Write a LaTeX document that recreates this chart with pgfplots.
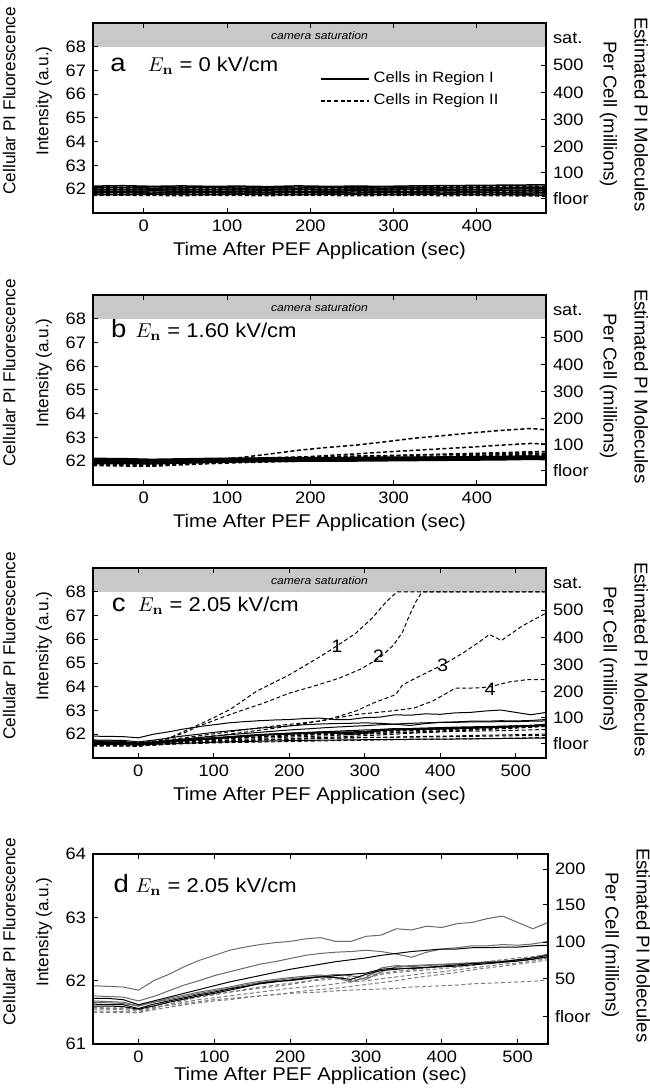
\documentclass[border=0pt]{standalone}
\usepackage[no-math]{fontspec}
\setmainfont{Liberation Sans}[FakeStretch=1.1]
\newfontfamily\rotfont{Liberation Sans}
\usepackage{pgfplots}
\usepackage{pgfplotstable}
\pgfplotsset{compat=1.18}

\definecolor{satgray}{RGB}{200,200,200}
\definecolor{dgray}{RGB}{105,105,105}
\definecolor{lgray}{RGB}{125,125,125}

% panel a: cells at 0 kV/cm
\pgfplotstableread{
t   s1    s2    s3    s4    s5    s6    d1    d2    d3    d4    d5    d6
-61 62.13 62.06 61.99 61.92 61.85 61.78 62.10 62.02 61.95 61.88 61.81 61.74
-25 62.15 62.07 61.98 61.91 61.86 61.77 62.09 62.03 61.96 61.89 61.82 61.75
10  62.12 62.05 62.00 61.93 61.84 61.79 62.11 62.01 61.95 61.88 61.81 61.74
45  62.14 62.06 61.99 61.92 61.85 61.78 62.10 62.03 61.96 61.87 61.82 61.73
80  62.12 62.07 61.98 61.91 61.86 61.77 62.09 62.02 61.94 61.89 61.80 61.75
115 62.13 62.05 62.00 61.92 61.84 61.79 62.10 62.03 61.96 61.88 61.82 61.74
150 62.11 62.06 61.99 61.93 61.85 61.78 62.08 62.02 61.95 61.89 61.81 61.73
185 62.14 62.05 62.00 61.91 61.86 61.77 62.10 62.01 61.96 61.88 61.82 61.75
220 62.12 62.07 61.98 61.92 61.85 61.79 62.09 62.03 61.95 61.87 61.80 61.74
255 62.13 62.06 62.00 61.93 61.84 61.78 62.11 62.02 61.94 61.89 61.81 61.73
290 62.12 62.05 61.99 61.92 61.86 61.77 62.10 62.03 61.96 61.88 61.82 61.74
325 62.14 62.07 62.01 61.91 61.85 61.78 62.09 62.02 61.95 61.89 61.81 61.75
360 62.15 62.06 62.00 61.93 61.84 61.79 62.11 62.04 61.96 61.88 61.80 61.73
395 62.16 62.08 61.99 61.92 61.86 61.77 62.12 62.03 61.97 61.89 61.82 61.74
430 62.17 62.07 62.01 61.94 61.85 61.78 62.10 62.04 61.96 61.90 61.81 61.73
465 62.18 62.09 62.02 61.93 61.84 61.76 62.13 62.05 61.97 61.89 61.80 61.72
483 62.19 62.08 62.01 61.94 61.85 61.75 62.12 62.04 61.97 61.90 61.81 61.71
}\atab

% panel b: 1.60 kV/cm
\pgfplotstableread{
t   s1    s2    s3    s4    s5    s6    d1    d2    d3    d4    d5    d6    d7
-61 62.12 62.05 62.00 61.95 61.90 62.08 62.05 61.96 61.92 61.88 61.85 61.82 62.10
-25 62.11 62.04 61.99 61.94 61.90 62.07 62.00 61.93 61.90 61.86 61.83 61.80 62.08
10  62.08 62.02 61.97 61.92 61.89 62.05 61.95 61.90 61.87 61.84 61.81 61.79 62.04
45  62.10 62.04 61.99 61.95 61.92 62.07 61.98 61.95 61.92 61.90 61.87 61.85 62.06
80  62.12 62.06 62.01 61.98 61.95 62.09 62.05 62.00 61.98 61.95 61.93 61.90 62.10
115 62.13 62.08 62.03 62.00 61.97 62.10 62.15 62.05 62.02 61.99 61.97 61.94 62.12
150 62.14 62.09 62.04 62.02 61.99 62.12 62.30 62.10 62.06 62.02 62.00 61.97 62.15
185 62.15 62.10 62.05 62.03 62.00 62.13 62.46 62.16 62.10 62.05 62.03 62.00 62.18
220 62.15 62.10 62.06 62.03 62.00 62.13 62.58 62.24 62.14 62.08 62.05 62.02 62.20
255 62.16 62.11 62.06 62.04 62.01 62.14 62.68 62.31 62.18 62.12 62.08 62.04 62.22
290 62.17 62.12 62.07 62.05 62.02 62.14 62.82 62.39 62.22 62.15 62.10 62.06 62.24
325 62.17 62.12 62.08 62.05 62.03 62.15 62.97 62.46 62.26 62.18 62.13 62.08 62.26
360 62.18 62.13 62.09 62.06 62.04 62.16 63.08 62.53 62.30 62.21 62.16 62.10 62.28
395 62.19 62.14 62.10 62.07 62.05 62.17 63.20 62.60 62.33 62.24 62.19 62.12 62.30
430 62.20 62.15 62.11 62.08 62.06 62.19 63.30 62.68 62.36 62.27 62.22 62.14 62.32
465 62.22 62.17 62.13 62.10 62.08 62.21 63.38 62.75 62.40 62.31 62.26 62.17 62.35
483 62.20 62.16 62.12 62.09 62.07 62.19 63.32 62.72 62.41 62.30 62.25 62.16 62.33
}\btab

% panels c and d: 2.05 kV/cm, cells shown in both
\pgfplotstableread{
t   L1    L2    L3    L4    L5    L6    L7    D1    D2    D3    D4    D5
-60 61.92 61.76 61.72 61.68 61.63 61.60 61.66 61.55 61.52 61.57 61.50 61.58
-40 61.91 61.75 61.72 61.67 61.62 61.60 61.65 61.55 61.52 61.56 61.50 61.57
-20 61.90 61.74 61.70 61.66 61.62 61.59 61.64 61.54 61.51 61.56 61.50 61.57
0   61.85 61.68 61.62 61.60 61.56 61.55 61.60 61.52 61.50 61.54 61.49 61.55
20  62.00 61.75 61.68 61.66 61.63 61.60 61.66 61.57 61.54 61.58 61.56 61.60
40  62.10 61.84 61.74 61.72 61.68 61.66 61.70 61.62 61.58 61.61 61.63 61.66
60  62.22 61.93 61.80 61.77 61.73 61.71 61.75 61.66 61.62 61.64 61.69 61.70
80  62.32 62.00 61.86 61.82 61.78 61.76 61.80 61.70 61.65 61.67 61.74 61.75
100 62.40 62.08 61.92 61.86 61.82 61.80 61.84 61.73 61.68 61.70 61.78 61.78
120 62.48 62.14 61.98 61.90 61.87 61.85 61.88 61.76 61.70 61.72 61.82 61.82
140 62.53 62.20 62.03 61.95 61.91 61.90 61.93 61.79 61.73 61.74 61.85 61.86
160 62.57 62.26 62.08 61.99 61.95 61.96 61.97 61.82 61.76 61.76 61.88 61.90
180 62.60 62.30 62.13 62.02 61.98 61.99 62.00 61.85 61.78 61.78 61.91 61.93
200 62.62 62.35 62.18 62.05 62.01 62.00 62.03 61.88 61.81 61.80 61.94 61.96
220 62.66 62.40 62.22 62.07 62.04 62.03 62.05 61.90 61.84 61.81 61.98 61.99
240 62.68 62.43 62.26 62.09 62.06 62.06 62.07 61.92 61.86 61.82 62.03 62.01
260 62.62 62.45 62.30 62.05 62.08 62.05 62.10 61.95 61.88 61.84 62.05 62.03
280 62.62 62.46 62.33 61.98 62.10 62.02 62.08 61.98 61.91 61.85 62.06 62.00
300 62.70 62.48 62.36 62.05 62.12 62.10 62.02 62.00 61.94 61.86 62.08 62.04
320 62.72 62.46 62.40 62.20 62.18 62.16 62.14 62.03 61.97 61.87 62.12 62.10
340 62.82 62.42 62.43 62.24 62.20 62.18 62.22 62.06 62.00 61.88 62.15 62.13
360 62.80 62.37 62.46 62.22 62.19 62.20 62.24 62.09 62.04 61.90 62.17 62.15
380 62.86 62.45 62.48 62.24 62.21 62.21 62.25 62.12 62.07 61.91 62.20 62.17
400 62.84 62.50 62.50 62.25 62.23 62.22 62.26 62.14 62.10 61.92 62.22 62.19
420 62.90 62.52 62.50 62.27 62.25 62.23 62.27 62.17 62.13 61.93 62.24 62.21
440 62.92 62.55 62.52 62.28 62.27 62.25 62.28 62.20 62.17 61.95 62.27 62.24
460 62.98 62.55 62.52 62.30 62.28 62.27 62.29 62.23 62.20 61.96 62.30 62.27
480 63.02 62.57 62.53 62.31 62.30 62.29 62.30 62.26 62.23 61.97 62.33 62.29
500 62.92 62.56 62.53 62.33 62.33 62.31 62.32 62.28 62.26 61.98 62.36 62.31
520 62.82 62.58 62.55 62.36 62.36 62.34 62.34 62.31 62.29 61.99 62.38 62.33
540 62.92 62.62 62.56 62.42 62.40 62.38 62.37 62.35 62.33 62.01 62.42 62.36
}\ctab

\pgfplotsset{
  dashsty/.style={dash pattern=on 2pt off 1.3pt},
  ln/.style={black, line width=0.5pt},
  dln/.style={black, line width=0.5pt, dashsty},
  bln/.style={black, line width=0.75pt},
  bdln/.style={black, line width=0.75pt, dashsty},
  pef/.style={
    scale only axis, width=226.5pt, height=95pt, anchor=north west,
    axis on top, clip mode=individual,
    axis line style={line width=0.8pt},
    tick align=inside, major tick length=2.5pt,
    xtick pos=both, ytick pos=left,
    tick style={line width=0.5pt, black},
    tick label style={font=\fontsize{8.3}{9}\selectfont},
    /pgf/number format/assume math mode=true,
    xlabel={Time After PEF Application (sec)},
    xlabel style={font=\fontsize{9.2}{10}\selectfont, at={(rel axis cs:0.5,0)}, anchor=center, yshift=-19pt},
  },
  rax/.style={
    scale only axis, width=226.5pt, height=95pt, anchor=north west,
    hide x axis, axis y line*=right,
    axis line style={line width=0.8pt},
    tick align=inside, major tick length=2.5pt,
    tick style={line width=0.5pt, black},
    tick label style={font=\fontsize{8.3}{9}\selectfont},
  },
}

\newcommand{\ylab}[1]{\node[rotate=90, align=center, font=\rotfont\fontsize{8.6}{10}\selectfont] at (-32.8pt,#1) {Cellular PI Fluorescence\\[6.5pt]Intensity (a.u.)};}
\newcommand{\rlab}[2]{\node[rotate=-90, align=center, font=\rotfont\fontsize{9.3}{10}\selectfont] at (#1,#2) {Estimated PI Molecules\\[5.5pt]Per Cell (millions)};}

\begin{document}
\begin{tikzpicture}
\useasboundingbox (-46.5pt,11.5pt) rectangle (278pt,-533.5pt);

% ---------------- a ----------------
\begin{axis}[pef, at={(0pt,0pt)}, xmin=-61, xmax=483, ymin=61, ymax=69,
  xtick={0,100,...,400}, ytick={62,...,68},
  legend style={at={(rel axis cs:0.5,0.765)}, anchor=north west, draw=none, fill=none,
    font=\fontsize{7.5}{8}\selectfont, inner sep=0pt, row sep=0pt},
  legend cell align=left,
  legend image code/.code={\draw[#1] (0pt,0pt) -- (24pt,0pt);}]
\addlegendimage{black, line width=0.9pt}
\addlegendimage{black, line width=0.9pt, dashsty}
\addplot[fill=satgray, draw=none, forget plot] coordinates {(-61,68) (483,68) (483,69) (-61,69)} --cycle;
\pgfplotsinvokeforeach{s1,s2,s3,s4,s5,s6}{\addplot[bln] table[x=t,y=#1]{\atab};}
\pgfplotsinvokeforeach{d1,d2,d3,d4,d5,d6}{\addplot[bdln] table[x=t,y=#1]{\atab};}
\legend{Cells in Region I, Cells in Region II}
\node[font=\fontsize{5.5}{6}\selectfont\itshape] at (axis cs:211,68.45) {camera saturation};
\node[font=\fontsize{12.5}{12}\selectfont, anchor=base] at (rel axis cs:0.055,0.745) {a};
\node[font=\fontsize{10}{10}\selectfont, anchor=base west, inner sep=0pt] at (rel axis cs:0.12,0.745) {$E_{\mathbf{n}}$ = 0 kV/cm};
\end{axis}
\begin{axis}[rax, at={(0pt,0pt)}, xmin=-61, xmax=483, ymin=61, ymax=69,
  ytick={61.6,62.7,63.8,64.93,66.08,67.22}, yticklabels={floor,100,200,300,400,500},
  extra y ticks={68.35}, extra y tick labels={sat.}, extra y tick style={major tick length=0pt}]
\end{axis}
\ylab{-38.95pt}
\rlab{265.5pt}{-45.6pt}

% ---------------- b ----------------
\begin{axis}[pef, at={(0pt,-136pt)}, xmin=-61, xmax=483, ymin=61, ymax=69,
  xtick={0,100,...,400}, ytick={62,...,68}]
\addplot[fill=satgray, draw=none] coordinates {(-61,68) (483,68) (483,69) (-61,69)} --cycle;
\pgfplotsinvokeforeach{s1,s2,s3,s4,s5,s6}{\addplot[bln] table[x=t,y=#1]{\btab};}
\pgfplotsinvokeforeach{d1,d2,d3,d4,d5,d6,d7}{\addplot[bdln] table[x=t,y=#1]{\btab};}
\node[font=\fontsize{5.5}{6}\selectfont\itshape] at (axis cs:211,68.45) {camera saturation};
\node[font=\fontsize{12.5}{12}\selectfont, anchor=base] at (rel axis cs:0.057,0.775) {b};
\node[font=\fontsize{10}{10}\selectfont, anchor=base west, inner sep=0pt] at (rel axis cs:0.093,0.775) {$E_{\mathbf{n}}$ = 1.60 kV/cm};
\end{axis}
\begin{axis}[rax, at={(0pt,-136pt)}, xmin=-61, xmax=483, ymin=61, ymax=69,
  ytick={61.6,62.7,63.8,64.93,66.08,67.22}, yticklabels={floor,100,200,300,400,500},
  extra y ticks={68.35}, extra y tick labels={sat.}, extra y tick style={major tick length=0pt}]
\end{axis}
\ylab{-174.95pt}
\rlab{265.5pt}{-181.6pt}

% ---------------- c ----------------
\begin{axis}[pef, at={(0pt,-272.5pt)}, xmin=-60, xmax=540, ymin=61, ymax=69,
  xtick={0,100,...,500}, ytick={62,...,68}]
\addplot[fill=satgray, draw=none] coordinates {(-60,68) (540,68) (540,69) (-60,69)} --cycle;
\pgfplotsinvokeforeach{L1,L2,L3,L4,L5,L6,L7}{\addplot[ln] table[x=t,y=#1]{\ctab};}
\pgfplotsinvokeforeach{D1,D2,D3,D4,D5}{\addplot[dln] table[x=t,y=#1]{\ctab};}
\addplot[dln] coordinates {(-60,61.55) (0,61.52) (60,61.60) (120,61.65) (180,61.68) (240,61.72) (300,61.75) (360,61.78) (420,61.80) (480,61.83) (540,61.86)};
\addplot[dln] coordinates {(-60,61.62) (0,61.58) (60,61.66) (120,61.72) (180,61.77) (240,61.82) (300,61.86) (360,61.88) (420,61.90) (480,61.93) (540,61.95)};
\addplot[dln] coordinates {(-60,61.65) (0,61.60) (60,61.72) (120,61.82) (180,61.90) (240,61.98) (300,62.04) (360,62.08) (420,62.12) (480,62.15) (540,62.20)};
\addplot[ln] coordinates {(-60,61.58) (0,61.55) (60,61.62) (120,61.68) (180,61.72) (240,61.75) (300,61.77) (360,61.79) (420,61.80) (480,61.82) (540,61.84)};
\addplot[ln] coordinates {(-60,61.70) (0,61.64) (60,61.75) (120,61.88) (180,62.00) (240,62.10) (300,62.18) (360,62.24) (420,62.30) (480,62.34) (540,62.38)};
% cells 1-4
\addplot[dln] coordinates {(-60,61.68) (-30,61.67) (0,61.63) (30,61.75) (45,61.90) (73,62.30) (100,62.70) (122,63.05) (156,63.80) (200,64.50) (244,65.33) (262,65.70) (288,66.25) (310,66.90) (329,67.60) (343,68.0) (540,68.0)};
\addplot[dln] coordinates {(-60,61.60) (0,61.58) (30,61.72) (60,62.05) (81,62.35) (110,62.70) (134,62.97) (165,63.30) (200,63.73) (235,64.05) (266,64.36) (295,64.75) (319,65.20) (338,65.75) (350,66.30) (359,67.0) (368,67.6) (376,68.0) (540,68.0)};
\addplot[dln] coordinates {(-60,61.60) (0,61.58) (60,61.80) (120,62.00) (180,62.25) (220,62.45) (250,62.62) (266,62.76) (290,63.00) (310,63.30) (341,63.67) (350,64.08) (376,64.50) (403,64.92) (429,65.40) (450,65.85) (465,66.20) (481,65.95) (508,66.55) (540,67.10)};
\addplot[dln] coordinates {(-60,61.65) (0,61.60) (60,61.85) (120,62.10) (180,62.35) (240,62.55) (288,62.83) (332,62.97) (365,63.10) (390,63.40) (420,63.94) (450,63.95) (466,64.00) (491,64.20) (515,64.30) (540,64.30)};
\node[font=\fontsize{9}{9}\selectfont, inner sep=0pt] at (axis cs:263,65.71) {1};
\node[font=\fontsize{9}{9}\selectfont, inner sep=0pt] at (axis cs:318,65.30) {2};
\node[font=\fontsize{9}{9}\selectfont, inner sep=0pt] at (axis cs:403,64.90) {3};
\node[font=\fontsize{9}{9}\selectfont, inner sep=0pt] at (axis cs:466,63.88) {4};
\node[font=\fontsize{5.5}{6}\selectfont\itshape] at (axis cs:240,68.45) {camera saturation};
\node[font=\fontsize{12.5}{12}\selectfont, anchor=base] at (rel axis cs:0.057,0.77) {c};
\node[font=\fontsize{10}{10}\selectfont, anchor=base west, inner sep=0pt] at (rel axis cs:0.098,0.77) {$E_{\mathbf{n}}$ = 2.05 kV/cm};
\end{axis}
\begin{axis}[rax, at={(0pt,-272.5pt)}, xmin=-60, xmax=540, ymin=61, ymax=69,
  ytick={61.6,62.7,63.8,64.93,66.08,67.22}, yticklabels={floor,100,200,300,400,500},
  extra y ticks={68.35}, extra y tick labels={sat.}, extra y tick style={major tick length=0pt}]
\end{axis}
\ylab{-311.45pt}
\rlab{265.5pt}{-318.1pt}

% ---------------- d ----------------
\begin{axis}[pef, at={(0pt,-415.5pt)}, width=227.5pt, xmin=-60, xmax=540, ymin=61, ymax=64,
  xtick={0,100,...,500}, ytick={61,...,64},
  xlabel style={yshift=3pt}]
\pgfplotsinvokeforeach{D1,D2,D3,D4,D5}{\addplot[lgray, line width=0.5pt, dashsty] table[x=t,y=#1]{\ctab};}
\pgfplotsinvokeforeach{L1,L2,L4,L7}{\addplot[dgray, line width=0.5pt] table[x=t,y=#1]{\ctab};}
\pgfplotsinvokeforeach{L3,L5,L6}{\addplot[black, line width=0.5pt] table[x=t,y=#1]{\ctab};}
\node[font=\fontsize{12.5}{12}\selectfont, anchor=base] at (rel axis cs:0.062,0.80) {d};
\node[font=\fontsize{10}{10}\selectfont, anchor=base west, inner sep=0pt] at (rel axis cs:0.093,0.80) {$E_{\mathbf{n}}$ = 2.05 kV/cm};
\end{axis}
\begin{axis}[rax, at={(0pt,-415.5pt)}, width=227.5pt, xmin=-60, xmax=540, ymin=61, ymax=64,
  ytick={61.44,62.03,62.61,63.2,63.76}, yticklabels={floor,50,100,150,200}]
\end{axis}
\ylab{-454.45pt}
\rlab{266.5pt}{-461.1pt}
\end{tikzpicture}
\end{document}
